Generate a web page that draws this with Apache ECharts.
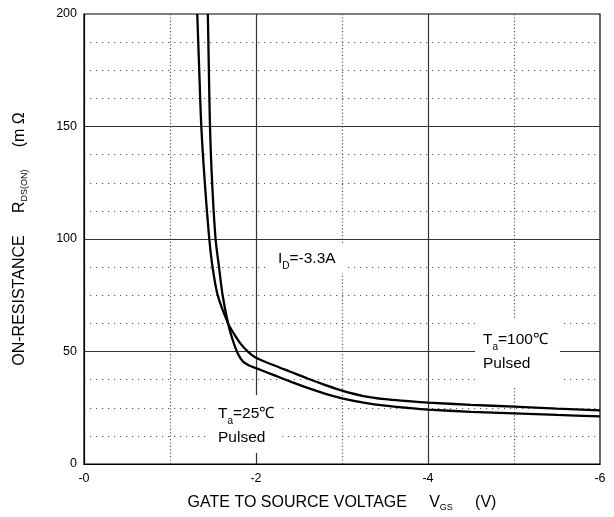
<!DOCTYPE html>
<html>
<head>
<meta charset="utf-8">
<script src="https://cdn.jsdelivr.net/npm/echarts@6/dist/echarts.min.js"></script>
<style>
html,body{margin:0;padding:0;background:#fff;}
#main{width:614px;height:517px;}
</style>
</head>
<body>
<div id="main"></div>
<script>
// ---- data ----
var t25Vgs = [-1.44, -1.452, -1.465, -1.49, -1.53, -1.57, -1.612, -1.675, -1.73, -1.79, -1.85, -1.92, -2.0, -2.2, -2.4, -2.6, -2.8, -3.0, -3.25, -3.5, -3.75, -4.0, -4.5, -5.0, -5.5, -6.0];
var t25R   = [200, 175, 150, 125, 100, 87.5, 75, 62.5, 55, 49, 45.5, 43.8, 42.6, 39.6, 36.6, 33.8, 31.3, 29.2, 27.3, 25.9, 25.0, 24.2, 23.2, 22.5, 21.8, 21.2];
var t100Vgs = [-1.317, -1.34, -1.364, -1.405, -1.457, -1.495, -1.555, -1.675, -1.75, -1.82, -1.9, -2.0, -2.2, -2.4, -2.6, -2.8, -3.0, -3.25, -3.5, -3.75, -4.0, -4.5, -5.0, -5.5, -6.0];
var t100R   = [200, 175, 150, 125, 100, 87.5, 75, 62.5, 57.5, 53.5, 50.2, 47.2, 44.0, 41.0, 38.0, 35.2, 32.6, 30.2, 28.8, 28.0, 27.3, 26.3, 25.5, 24.6, 23.8];
var xTickLabels = {'0': '-0', '-2': '-2', '-4': '-4', '-6': '-6'};
var yTickLabels = ['0', '50', '100', '150', '200'];

function pairs(xs, ys) { return xs.map(function (x, i) { return [x, ys[i]]; }); }

var FONT = 'Liberation Sans, Arial, sans-serif';
var chart = echarts.init(document.getElementById('main'), null, {renderer: 'canvas'});

var nameRich = {
  n: {fontSize: 16, fontFamily: FONT, color: '#000', lineHeight: 18},
  s: {fontSize: 9, fontFamily: FONT, color: '#000', lineHeight: 8, verticalAlign: 'bottom'}
};

var option = {
  animation: false,
  backgroundColor: '#fff',
  textStyle: {fontFamily: FONT},
  grid: {left: 84, top: 14, right: 14, bottom: 53, show: true, borderColor: '#000', borderWidth: 1.2, containLabel: false},
  xAxis: {
    type: 'value', min: -6, max: 0, interval: 2, inverse: true,
    axisLine: {show: true, onZero: false, lineStyle: {color: '#000', width: 1.2}},
    axisTick: {show: false},
    axisLabel: {color: '#000', fontSize: 12.5, fontFamily: FONT, margin: 8,
      formatter: function (v) { return xTickLabels[String(v)] !== undefined ? xTickLabels[String(v)] : String(v); }},
    splitLine: {show: true, showMinLine: false, showMaxLine: false, lineStyle: {color: '#333', width: 1.2}},
    minorTick: {show: false, splitNumber: 2},
    minorSplitLine: {show: true, lineStyle: {color: '#555', width: 1.2, type: [1.2, 2.2]}},
    name: 'GATE TO SOURCE VOLTAGE     {n|V}{s|GS}     {n|(V)}',
    nameLocation: 'middle', nameGap: 30,
    nameTextStyle: {color: '#000', fontSize: 16, fontFamily: FONT, rich: nameRich}
  },
  yAxis: {
    type: 'value', min: 0, max: 200, interval: 50,
    axisLine: {show: true, lineStyle: {color: '#000', width: 1.2}},
    axisTick: {show: false},
    axisLabel: {color: '#000', fontSize: 12.5, fontFamily: FONT, margin: 7,
      formatter: function (v) { return yTickLabels[Math.round(v / 50)]; }},
    splitLine: {show: true, showMinLine: false, showMaxLine: false, lineStyle: {color: '#333', width: 1.2}},
    minorTick: {show: false, splitNumber: 4},
    minorSplitLine: {show: true, lineStyle: {color: '#555', width: 1.2, type: [1.2, 4.8]}},
    name: 'ON-RESISTANCE     {n|R}{s|DS(ON)}     {n|(m Ω}',
    nameLocation: 'middle', nameGap: 55,
    nameTextStyle: {color: '#000', fontSize: 16, fontFamily: FONT, rich: nameRich}
  },
  series: [
    {name: 'Ta=25℃', type: 'line', data: pairs(t25Vgs, t25R), showSymbol: false, smooth: 0.3,
     lineStyle: {color: '#000', width: 2.3}, clip: true, z: 5},
    {name: 'Ta=100℃', type: 'line', data: pairs(t100Vgs, t100R), showSymbol: false, smooth: 0.3,
     lineStyle: {color: '#000', width: 2.3}, clip: true, z: 5}
  ]
};
chart.setOption(option);

var rich = {
  n: {fontSize: 15.5, fontFamily: FONT, fill: '#000', lineHeight: 24},
  s: {fontSize: 10, fontFamily: FONT, fill: '#000', lineHeight: 10, verticalAlign: 'bottom'}
};
chart.setOption({
  graphic: [
    {type: 'text', left: 268, top: 245, z: 100,
     style: {text: '{n|I}{s|D}{n|=-3.3A}', rich: rich, backgroundColor: '#fff', padding: [2, 10, 2, 10], fill: '#000', font: '15.5px ' + FONT}},
    {type: 'text', left: 475, top: 318, z: 100,
     style: {text: '{n|T}{s|a}{n|=100℃}\n{n|Pulsed}', rich: rich, backgroundColor: '#fff', padding: [10, 12, 10, 8], fill: '#000', font: '15.5px ' + FONT}},
    {type: 'text', left: 210, top: 395, z: 100,
     style: {text: '{n|T}{s|a}{n|=25℃}\n{n|Pulsed}', rich: rich, backgroundColor: '#fff', padding: [7, 8, 3, 8], fill: '#000', font: '15.5px ' + FONT}}
  ]
});
</script>
</body>
</html>
